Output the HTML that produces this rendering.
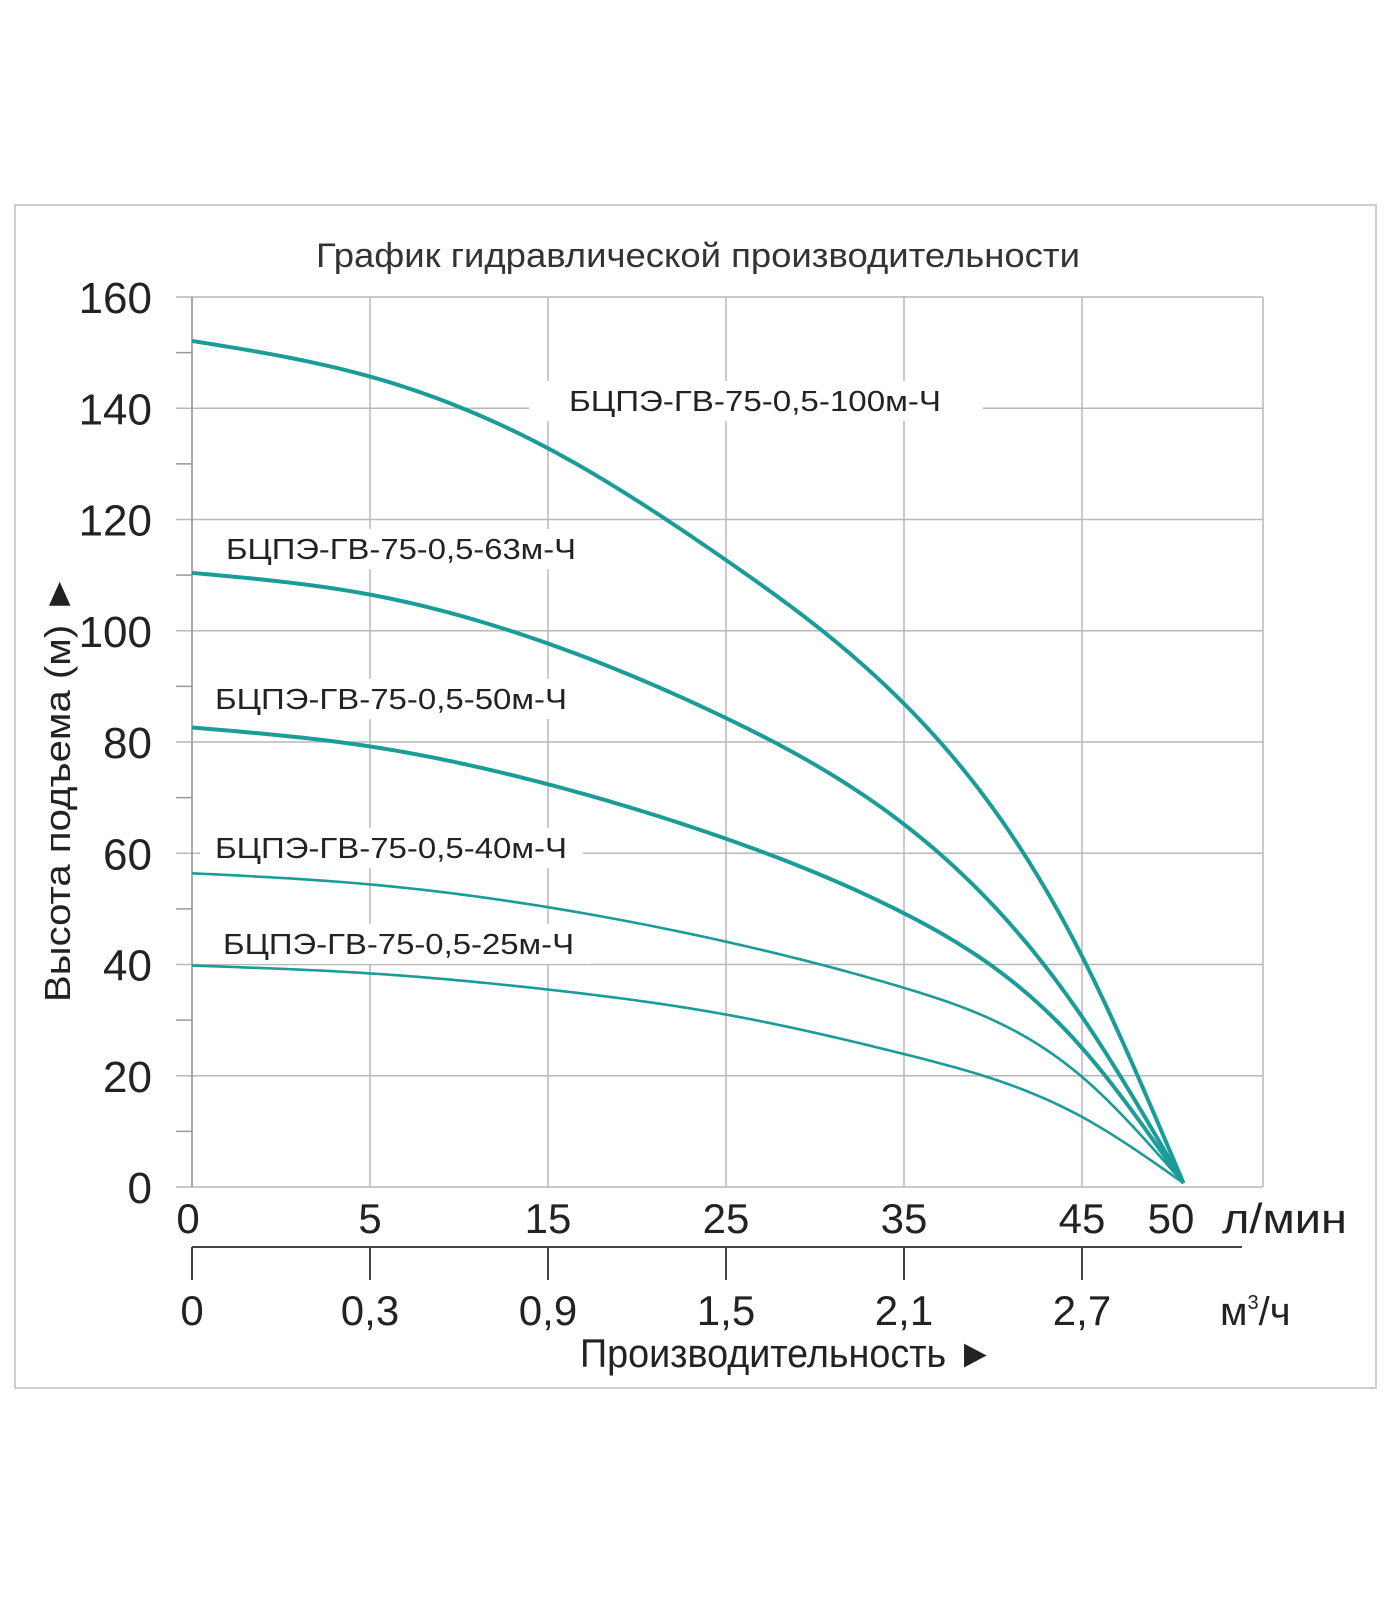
<!DOCTYPE html>
<html><head><meta charset="utf-8"><style>
body{margin:0;background:#fff;}
svg{display:block;font-family:"Liberation Sans","DejaVu Sans",sans-serif;}
</style></head><body>
<svg id="chart" width="1400" height="1600" viewBox="0 0 1400 1600">
<rect x="15" y="205" width="1361" height="1183" fill="#fff" stroke="#cfcfcf" stroke-width="2"/>
<text x="316" y="267" font-size="34" fill="#333" textLength="764" lengthAdjust="spacingAndGlyphs">График гидравлической производительности</text>
<g id="grid"></g><g id="axes"></g><g id="curves"></g><g id="labels"></g>
<text transform="translate(70,788) rotate(-90)" text-anchor="middle" font-size="36" fill="#222" textLength="428" lengthAdjust="spacingAndGlyphs">Высота подъема (м) ►</text>
<text x="1222" y="1233" font-size="42" fill="#222" textLength="125" lengthAdjust="spacingAndGlyphs">л/мин</text>
<text x="1220" y="1325" font-size="40" fill="#222">м<tspan dy="-16" font-size="20">3</tspan><tspan dy="16">/ч</tspan></text>
<text x="580" y="1367" font-size="40" fill="#222" textLength="414" lengthAdjust="spacingAndGlyphs">Производительность ►</text>
</svg>
<script>
const flowTicks=[0,5,15,25,35,45,50];
const m3Ticks=["0","0,3","0,9","1,5","2,1","2,7"];
const headTicks=[0,20,40,60,80,100,120,140,160];
const flows=[0,5,15,25,35,45,50.7];
const head100=[152.1,145.7,132.8,112.7,86.9,41.5,0.7];
const head63=[110.4,106.5,97.7,84.3,65.2,30.6,0.7];
const head50=[82.6,79.2,72.4,62.6,49.2,25,0.7];
const head40=[56.4,54.4,50.3,44.1,35.8,19.8,0.7];
const head25=[39.8,38.4,35.5,31,23.9,12.6,0.7];
const seriesNames=["БЦПЭ-ГВ-75-0,5-100м-Ч","БЦПЭ-ГВ-75-0,5-63м-Ч","БЦПЭ-ГВ-75-0,5-50м-Ч","БЦПЭ-ГВ-75-0,5-40м-Ч","БЦПЭ-ГВ-75-0,5-25м-Ч"];
const NS="http://www.w3.org/2000/svg";
const X0=192,XR=1263,Y0=1187,Y1=297;
function xs(v){ if(v<=5) return X0+v*35.6; return 370+(v-5)*17.8; }
function ys(v){ return Y0-(v/160)*(Y0-Y1); }
function mk(tag,attrs,parent){const e=document.createElementNS(NS,tag);for(const k in attrs)e.setAttribute(k,attrs[k]);document.getElementById(parent).appendChild(e);return e;}
const gx=[0,5,15,25,35,45];
gx.forEach(v=>{const e=mk('line',{x1:xs(v),x2:xs(v),y1:Y1,y2:Y0,stroke:'#b8b8b8','stroke-width':1.5},'grid');

});
{const e=mk('line',{x1:XR,x2:XR,y1:Y1,y2:Y0,stroke:'#b8b8b8','stroke-width':1.5},'grid');

}
headTicks.forEach(v=>{const e=mk('line',{x1:X0-16,x2:XR,y1:ys(v),y2:ys(v),stroke:'#b8b8b8','stroke-width':1.5},'grid');


const t=mk('text',{x:152,y:ys(v)+16,'text-anchor':'end','font-size':44,fill:'#222'},'axes');t.textContent=v;

});
for(let v=10;v<160;v+=20){const e=mk('line',{x1:X0-16,x2:X0,y1:ys(v),y2:ys(v),stroke:'#999','stroke-width':1.5},'axes');

}
{const e=mk('line',{x1:X0,x2:X0,y1:Y1,y2:Y0,stroke:'#999','stroke-width':1.5},'axes');

}
flowTicks.forEach(v=>{const t=mk('text',{x:v===0?xs(v)-4:xs(v),y:1233,'text-anchor':'middle','font-size':42,fill:'#222'},'axes');t.textContent=v;

});
{const e=mk('line',{x1:X0,x2:1242,y1:1247,y2:1247,stroke:'#444','stroke-width':2},'axes');

}
m3Ticks.forEach((s,i)=>{const x=xs(gx[i]);const e=mk('line',{x1:x,x2:x,y1:1247,y2:1280,stroke:'#444','stroke-width':2},'axes');


const t=mk('text',{x:x,y:1325,'text-anchor':'middle','font-size':42,fill:'#222'},'axes');t.textContent=s;

});
const all=[head100,head63,head50,head40,head25];
const widths=[4,4,4,2.6,2.6];
// natural cubic spline in pixel space
function path(hs){const X=flows.map(xs),Y=hs.map(ys);const n=X.length;
const h=[];for(let i=0;i<n-1;i++)h.push(X[i+1]-X[i]);
const a=new Array(n).fill(0),b=new Array(n).fill(1),c=new Array(n).fill(0),r=new Array(n).fill(0);
for(let i=1;i<n-1;i++){a[i]=h[i-1];b[i]=2*(h[i-1]+h[i]);c[i]=h[i];r[i]=6*((Y[i+1]-Y[i])/h[i]-(Y[i]-Y[i-1])/h[i-1]);}
for(let i=1;i<n;i++){const w=a[i]/b[i-1];b[i]-=w*c[i-1];r[i]-=w*r[i-1];}
const M=new Array(n).fill(0);M[n-1]=r[n-1]/b[n-1];for(let i=n-2;i>=0;i--)M[i]=(r[i]-c[i]*M[i+1])/b[i];
let s=`M${X[0].toFixed(2)},${Y[0].toFixed(2)}`;
for(let i=0;i<n-1;i++){const steps=24;for(let k=1;k<=steps;k++){const x=X[i]+h[i]*k/steps;const A=(X[i+1]-x)/h[i],B=(x-X[i])/h[i];
const y=A*Y[i]+B*Y[i+1]+((A*A*A-A)*M[i]+(B*B*B-B)*M[i+1])*h[i]*h[i]/6;s+=` L${x.toFixed(2)},${y.toFixed(2)}`;}}
return s;}
all.forEach((hs,i)=>{const e=mk('path',{d:path(hs),fill:'none',stroke:'#1a9c98','stroke-width':widths[i],'stroke-linejoin':'round'},'curves');

});
const lp=[[569,411,372,529,983],[226,559,350,200,590],[215,709,352,200,590],[215,858,352,200,583],[223,954,351,200,590]];
seriesNames.forEach((n,i)=>{const r=mk('rect',{x:lp[i][3],y:lp[i][1]-30,width:lp[i][4]-lp[i][3],height:40,fill:'#fff'},'labels');


const t=mk('text',{x:lp[i][0],y:lp[i][1],'font-size':29,fill:'#222',textLength:lp[i][2],lengthAdjust:'spacingAndGlyphs'},'labels');t.textContent=n;

});
</script>
</body></html>
